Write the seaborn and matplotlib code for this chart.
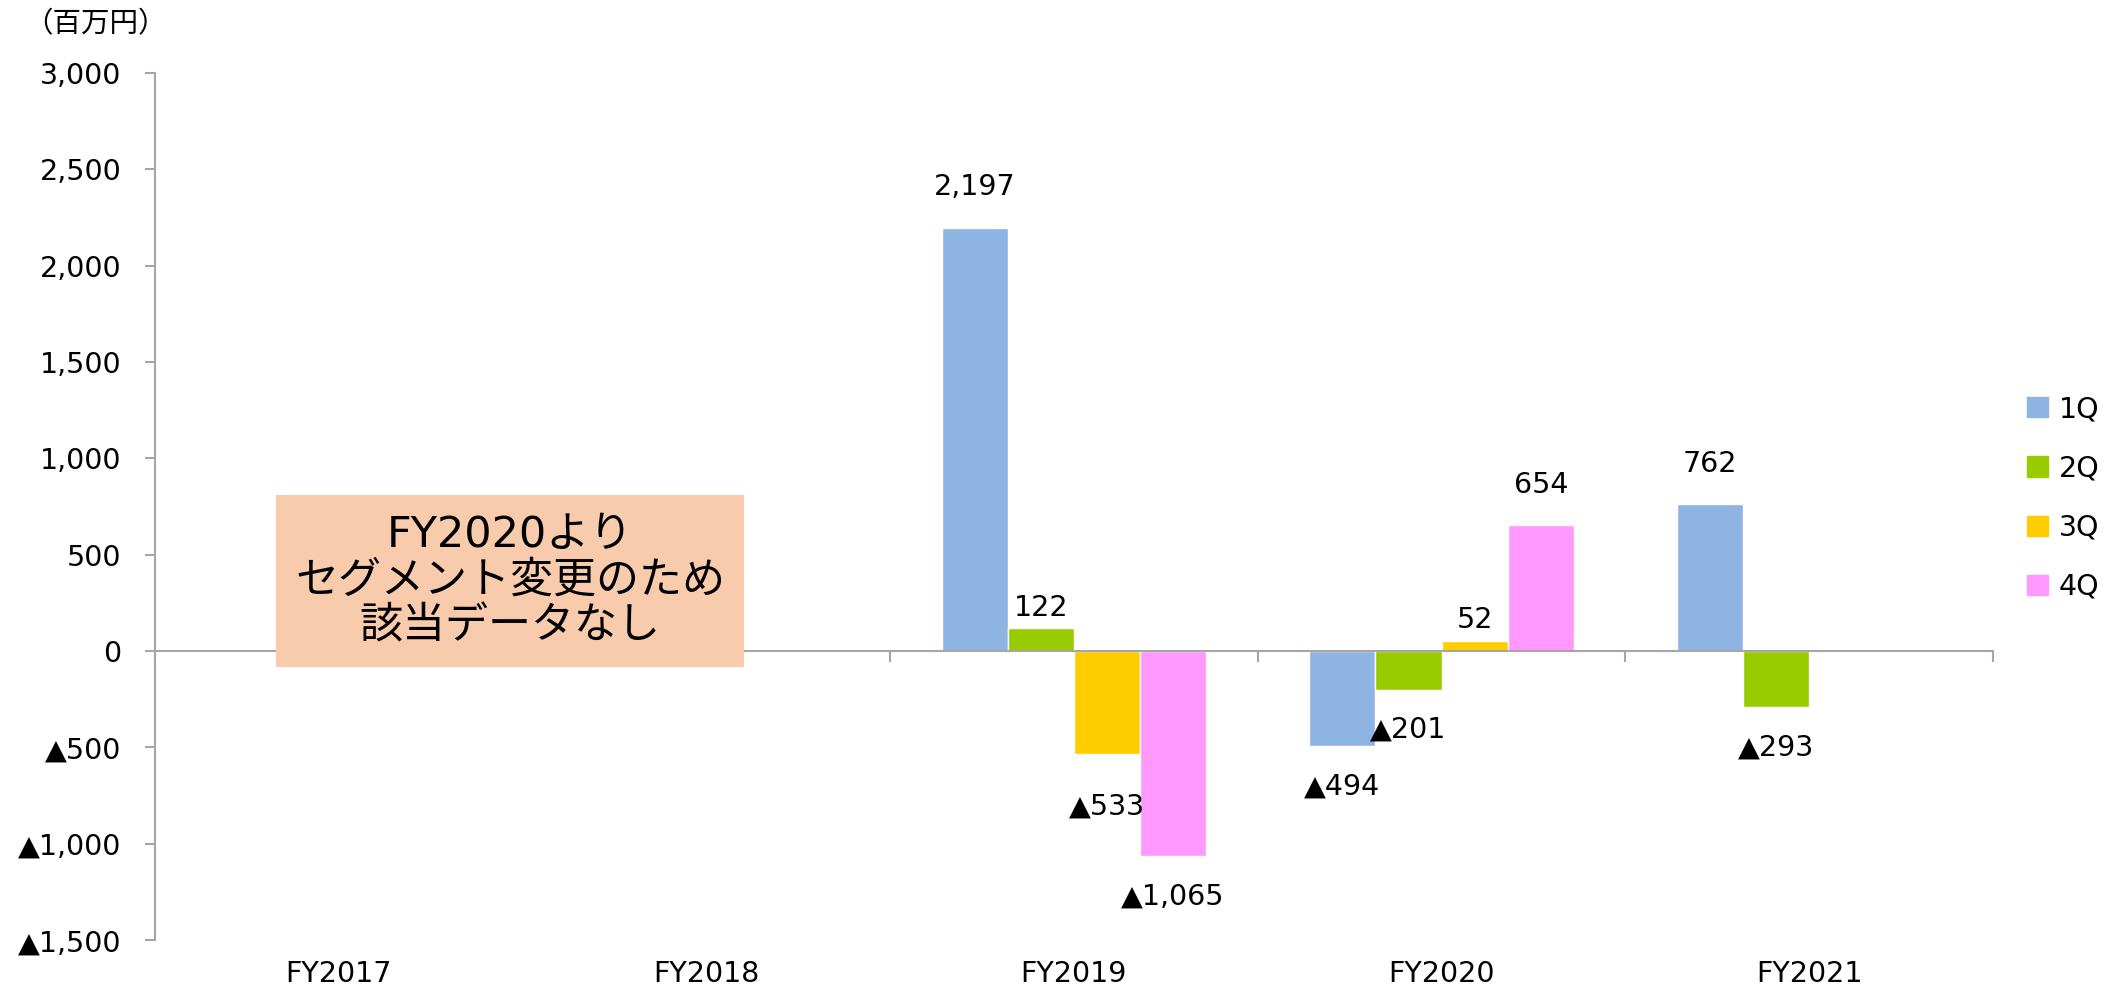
import numpy as np
import pandas as pd
import matplotlib
matplotlib.use("Agg")
import matplotlib.pyplot as plt
from matplotlib.ticker import FuncFormatter
import seaborn as sns

# data (百万円)
categories = ['FY2017', 'FY2018', 'FY2019', 'FY2020', 'FY2021']
quarters = ['1Q', '2Q', '3Q', '4Q']
q1 = [np.nan, np.nan, 2197, -494, 762]
q2 = [np.nan, np.nan, 122, -201, -293]
q3 = [np.nan, np.nan, -533, 52, np.nan]
q4 = [np.nan, np.nan, -1065, 654, np.nan]
colors = ['#8EB4E3', '#99CC00', '#FFCC00', '#FF99FF']
note = 'FY2020より\nセグメント変更のため\n該当データなし'

df = pd.DataFrame({'年度': categories, '1Q': q1, '2Q': q2, '3Q': q3, '4Q': q4})
long_df = df.melt(id_vars='年度', var_name='四半期', value_name='値').dropna()

sns.set_style('white')
plt.rcParams['font.family'] = ['DejaVu Sans', 'Noto Sans CJK JP']
plt.rcParams['text.color'] = 'black'
plt.rcParams['xtick.labelcolor'] = 'black'
plt.rcParams['ytick.labelcolor'] = 'black'
fs = 20.5

# label offsets in points (small bars had their labels sitting closer in the original)
label_off = {('FY2019', '2Q'): 14, ('FY2020', '3Q'): 15, ('FY2019', '3Q'): -38}


def fmt_val(v):
    return f'▲{abs(v):,.0f}' if v < 0 else f'{v:,.0f}'


fig = plt.figure(figsize=(21.19, 9.99), dpi=100)
ax = fig.add_axes([0.0731, 0.059, 0.8674, 0.868])

sns.barplot(data=long_df, x='年度', y='値', hue='四半期', order=categories,
            hue_order=quarters, palette=colors, width=0.72, saturation=1,
            legend=False, ax=ax, errorbar=None)

ax.set_xlim(-0.5, len(categories) - 0.5)
ax.set_ylim(-1500, 3000)
ax.set_yticks(np.arange(-1500, 3001, 500))
ax.yaxis.set_major_formatter(FuncFormatter(lambda v, p: fmt_val(v)))
ax.tick_params(axis='y', which='major', length=7, width=1.5, color='#A6A6A6',
               direction='out', pad=17, labelsize=fs, left=True)

# zero line with category boundary ticks
ax.spines['bottom'].set_position(('data', 0))
ax.spines['bottom'].set_color('#A6A6A6')
ax.spines['bottom'].set_linewidth(1.5)
ax.spines['left'].set_color('#A6A6A6')
ax.spines['left'].set_linewidth(1.5)
ax.spines['top'].set_visible(False)
ax.spines['right'].set_visible(False)
ax.set_xticks(np.arange(-0.5, len(categories), 1.0))
ax.set_xticklabels([])
ax.tick_params(axis='x', length=8, width=1.5, color='#A6A6A6', direction='out', bottom=True)
ax.set_xlabel('')
ax.set_ylabel('')

# category labels along the bottom
sec = ax.secondary_xaxis(location=0)
sec.set_xticks(range(len(categories)))
sec.set_xticklabels(categories)
sec.tick_params(length=0, pad=14, labelsize=fs)
sec.spines['bottom'].set_visible(False)

# value labels
for q, cont in zip(quarters, ax.containers):
    cats_q = [c for c in categories if c in set(long_df.loc[long_df['四半期'] == q, '年度'])]
    for cat, bar, v in zip(cats_q, cont.patches, cont.datavalues):
        if np.isnan(v):
            continue
        cx = bar.get_x() + bar.get_width() / 2
        off = label_off.get((cat, q), 29 if v >= 0 else -29)
        ax.annotate(fmt_val(v), (cx, v), xytext=(0, off), textcoords='offset points',
                    ha='center', va='center', fontsize=fs)

ax.text(0.467, 365, note, ha='center', va='center', fontsize=31, linespacing=1.12,
        bbox=dict(boxstyle='square,pad=0.44', fc='#F8CBAD', ec='none'), zorder=5)

fig.text(0.045, 0.976, '（百万円）', ha='center', va='center', fontsize=fs)

handles = [plt.Rectangle((0, 0), 1, 1, color=c) for c in colors]
fig.legend(handles, quarters, loc='center left', bbox_to_anchor=(0.9566, 0.5015),
           frameon=False, fontsize=fs, borderpad=0, borderaxespad=0,
           handlelength=0.72, handleheight=0.72, handletextpad=0.4, labelspacing=1.1)

fig.savefig('out.png', dpi=100)
